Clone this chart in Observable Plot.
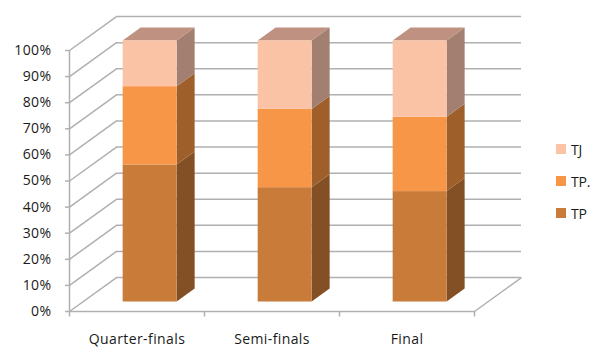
<!DOCTYPE html>
<html>
<head>
<meta charset="utf-8">
<script src="https://cdn.jsdelivr.net/npm/d3@7"></script>
<script src="https://cdn.jsdelivr.net/npm/@observablehq/plot@0.6"></script>
<style>
  body { margin: 0; background: #fff; }
  #chart { position: relative; width: 593px; height: 347px; font-family: "Open Sans", sans-serif; }
  #chart > svg { position: absolute; left: 0; top: 0; }
  #legend { position: absolute; left: 556px; top: 133px; letter-spacing: -0.2px; }
  div.lg-swatch { height: 32px !important; padding: 0 !important; margin: 0 !important; align-items: center; }
  div.lg-swatch svg { margin-right: 5px !important; }
</style>
</head>
<body>
<div id="chart"></div>
<script>
// Share of each type per stage (percent, stacks to 100)
const categories = ["Quarter-finals", "Semi-finals", "Final"];
const seriesNames = ["TP", "TP.", "TJ"];          // bottom → top
const tpValues    = [52.5, 43.8, 42.3];
const tpDotValues = [30.0, 30.0, 28.5];
const tjValues    = [17.5, 26.2, 29.2];
const yTicks = d3.range(0, 101, 10);

// Face colours for each series: front, side, top
const frontColors = {"TP": "#c97b3a", "TP.": "#f79646", "TJ": "#fbc3a6"};
const sideColors  = {"TP": "#834f24", "TP.": "#9e5f2a", "TJ": "#a27f70"};
const topColors   = {"TP": "#a5683a", "TP.": "#c47a3c", "TJ": "#bf9180"};

// Oblique depth of the box: full depth in x (category units) and y (percent)
const DX = 0.348, DY = 13;
const FRONT = 0.28, BACK = 0.663;   // bar depth range within the box
const HALF = 0.2;                   // half bar width
const grid = "#b0b0b0";

const seriesValues = [tpValues, tpDotValues, tjValues];
const segments = [];
categories.forEach((cat, i) => {
  let lo = 0;
  seriesNames.forEach((s, k) => {
    const v = seriesValues[k][i];
    segments.push({cat, i, series: s, lo, hi: lo + v, top: k === seriesNames.length - 1});
    lo += v;
  });
});

// side faces: two vertical edges, front and back
const sides = segments.flatMap(d => [FRONT, BACK].map(t => ({
  key: d.cat + d.series, series: d.series,
  x: d.i + t * DX + HALF, lo: d.lo + t * DY, hi: d.hi + t * DY
})));
// top faces of each stack: two horizontal edges, front and back
const tops = segments.filter(d => d.top).flatMap(d => [FRONT, BACK].map(t => ({
  key: d.cat, series: d.series,
  y: d.hi + t * DY, x1: d.i + t * DX - HALF, x2: d.i + t * DX + HALF
})));

const plot = Plot.plot({
  width: 593,
  height: 347,
  marginLeft: 69,
  marginRight: 119,
  marginTop: 50,
  marginBottom: 36,
  style: {fontFamily: "Open Sans, sans-serif", fontSize: "14px", color: "#1a1a1a", background: "#fff", letterSpacing: "0.4px"},
  x: {domain: [-0.5, 2.5]},
  y: {domain: [0, 100]},
  color: {domain: ["TJ", "TP.", "TP"], range: ["TJ", "TP.", "TP"].map(s => frontColors[s])},
  marks: [
    // back wall gridlines
    Plot.ruleY(yTicks, {y: d => d + DY, x1: () => -0.5 + DX, x2: () => 2.5 + DX, stroke: grid, strokeWidth: 1.5}),
    // side wall gridlines
    Plot.link(yTicks, {x1: () => -0.5, y1: d => d, x2: () => -0.5 + DX, y2: d => d + DY, stroke: grid, strokeWidth: 1.5}),
    // floor right edge
    Plot.link([0], {x1: () => 2.5, y1: () => 0, x2: () => 2.5 + DX, y2: () => DY, stroke: grid, strokeWidth: 1.5}),
    // front axes
    Plot.ruleX([-0.5], {y1: () => 0, y2: () => 100, stroke: grid, strokeWidth: 1.5}),
    Plot.ruleY([0], {x1: () => -0.5, x2: () => 2.5, stroke: grid, strokeWidth: 1.5}),
    Plot.ruleX([-0.5, 0.5, 1.5, 2.5], {y1: () => 0, y2: () => -2.1, stroke: grid, strokeWidth: 1.5}),
    Plot.axisY({ticks: yTicks, tickFormat: d => d + "%", tickSize: 4, tickPadding: 14, stroke: grid, strokeWidth: 1.5, strokeOpacity: 1, label: null, fontSize: 14}),
    Plot.axisX({ticks: [0, 1, 2], tickFormat: i => categories[i], tickSize: 0, tickPadding: 23, label: null, fontSize: 14}),
    // bar side faces
    Plot.area(sides, {x1: "x", y1: "lo", y2: "hi", z: "key", fill: d => sideColors[d.series], curve: "linear"}),
    // bar top faces
    Plot.area(tops, {y1: "y", x1: "x1", x2: "x2", z: "key", fill: d => topColors[d.series], curve: "linear"}),
    // bar front faces
    Plot.rect(segments, {
      x1: d => d.i + FRONT * DX - HALF,
      x2: d => d.i + FRONT * DX + HALF,
      y1: d => d.lo + FRONT * DY,
      y2: d => d.hi + FRONT * DY,
      fill: "series"
    })
  ]
});

const chart = document.getElementById("chart");
chart.appendChild(plot);
const legend = plot.legend("color", {
  columns: 1,
  swatchSize: 10,
  className: "lg",
  style: {fontSize: "14px", fontFamily: "Open Sans, sans-serif", color: "#1a1a1a", margin: "0"}
});
legend.id = "legend";
chart.appendChild(legend);
</script>
</body>
</html>
